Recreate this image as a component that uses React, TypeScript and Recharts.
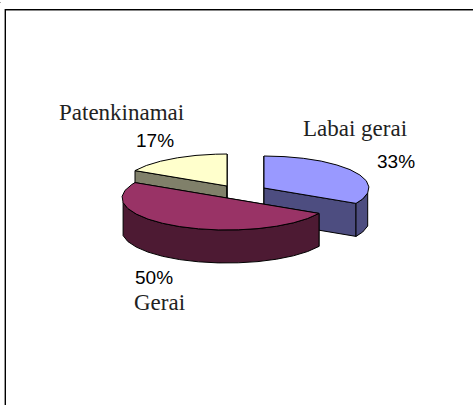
import React from 'react';
import { PieChart, Pie } from 'recharts';

// drawing order = data order, so the back slice comes first
const names = ['Patenkinamai', 'Labai gerai', 'Gerai'];
const shares = [17, 33, 50];
const topColors = ['#FFFFCC', '#9999FF', '#993366'];
const sideColors = ['#80806A', '#4D4D80', '#4D1A33'];

const SQUASH = 0.305;
const DEPTH = 33;
const STEP = 11; // the original outline is visibly made of short straight pieces

// how far each slice is pulled out of the pie
const explode: Record<string, [number, number]> = {
  Patenkinamai: [0, 0],
  'Labai gerai': [37, 2],
  Gerai: [0, 12],
};

// label anchors: name first, then percent
const labelPos: Record<string, { name: [number, number]; pct: [number, number] }> = {
  Patenkinamai: { name: [59, 120], pct: [136, 147] },
  'Labai gerai': { name: [303, 136], pct: [377, 168] },
  Gerai: { name: [134, 310], pct: [135, 284] },
};

const tableData = names.map((name, i) => ({
  name,
  value: shares[i],
  fill: topColors[i],
  side: sideColors[i],
}));

function Slice3D(props: any) {
  const { cx, cy, outerRadius, startAngle, endAngle, payload, name } = props;
  const key = payload?.name ?? name;
  const side = payload?.side ?? props.side;
  const fill = payload?.fill ?? props.fill;
  const [dx, dy] = explode[key];
  const ox = cx + dx;
  const oy = cy + dy;
  const pt = (deg: number): [number, number] => [
    ox + outerRadius * Math.cos((deg * Math.PI) / 180),
    oy - outerRadius * SQUASH * Math.sin((deg * Math.PI) / 180),
  ];
  const rim: [number, number][] = [];
  for (let a = startAngle; a > endAngle; a -= STEP) rim.push(pt(a));
  rim.push(pt(endAngle));

  const toPath = (pts: [number, number][]) =>
    pts.map((p, i) => `${i ? 'L' : 'M'}${p[0].toFixed(1)},${p[1].toFixed(1)}`).join(' ') + ' Z';
  const down = (p: [number, number]): [number, number] => [p[0], p[1] + DEPTH];

  // outer wall, only the part of the rim that faces the viewer
  const frontRim = rim.filter((_, i) => {
    const a = Math.max(startAngle - i * STEP, endAngle);
    const norm = ((a % 360) + 360) % 360;
    return norm >= 180 || norm === 0;
  });
  const wall = frontRim.length > 1 ? [...frontRim, ...frontRim.slice().reverse().map(down)] : null;

  // cut faces, drawn first so the top covers them
  const apex: [number, number] = [ox, oy];
  const cutEnd = [apex, rim[rim.length - 1], down(rim[rim.length - 1]), down(apex)];
  const cutStart = [apex, rim[0], down(rim[0]), down(apex)];

  const line = { stroke: '#000', strokeWidth: 1, strokeLinejoin: 'round' as const };
  return (
    <g>
      <path d={toPath(cutStart)} fill={side} {...line} />
      <path d={toPath(cutEnd)} fill={side} {...line} />
      {wall && <path d={toPath(wall)} fill={side} {...line} />}
      <path d={toPath([apex, ...rim])} fill={fill} {...line} />
    </g>
  );
}

function SliceLabel(props: any) {
  const key = props.name ?? props.payload?.name;
  const pos = labelPos[key];
  return (
    <g>
      <text x={pos.name[0]} y={pos.name[1]} fontFamily="Liberation Serif" fontSize={23} fill="#222">
        {key}
      </text>
      <text x={pos.pct[0]} y={pos.pct[1]} fontFamily="Liberation Sans" fontSize={19} fill="#000">
        {`${Math.round(props.value)}%`}
      </text>
    </g>
  );
}

export default function App() {
  return (
    <div style={{ position: 'absolute', left: 0, top: 0, width: 473, height: 405, background: '#fff', overflow: 'hidden' }}>
      <div style={{ position: 'absolute', left: 0, top: 2, width: 1, height: 1, background: '#aaa' }} />
      <div style={{ position: 'absolute', left: 4, top: 9, right: 0, height: 1, background: '#000', boxShadow: '0 1px 0 #888' }} />
      <div style={{ position: 'absolute', left: 5, top: 9, bottom: 0, width: 1, background: '#000', boxShadow: '-1px 0 0 #999' }} />
      <PieChart width={473} height={405} margin={{ top: 0, right: 0, bottom: 0, left: 0 }}>
        <Pie
          data={tableData}
          dataKey="value"
          nameKey="name"
          cx={227}
          cy={186}
          outerRadius={105}
          startAngle={151.2}
          endAngle={-208.8}
          stroke="none"
          isAnimationActive={false}
          shape={Slice3D}
          label={SliceLabel}
          labelLine={false}
        />
      </PieChart>
    </div>
  );
}
